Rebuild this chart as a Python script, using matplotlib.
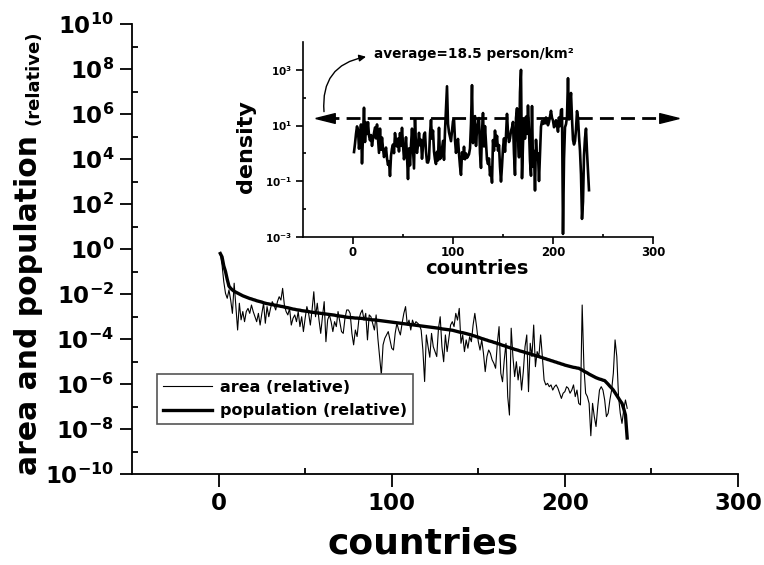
import numpy as np
import matplotlib
matplotlib.use("Agg")
import matplotlib.pyplot as plt
from matplotlib.ticker import FixedLocator, FuncFormatter, NullFormatter

plt.rcParams['font.family'] = 'DejaVu Sans'
plt.rcParams['font.weight'] = 'bold'
plt.rcParams['mathtext.fontset'] = 'dejavusans'

# countries ranked by population (log10 of relative value)
countries = np.arange(1, 237)
population_log10 = [
    -0.20, -0.35, -0.75, -1.00, -1.35, -1.65, -1.75, -1.82, -1.88, -1.92,
    -1.96, -2.00, -2.04, -2.08, -2.11, -2.14, -2.17, -2.20, -2.22, -2.25,
    -2.27, -2.30, -2.32, -2.34, -2.36, -2.39, -2.41, -2.43, -2.44, -2.46,
    -2.47, -2.49, -2.50, -2.52, -2.53, -2.55, -2.56, -2.58, -2.60, -2.61,
    -2.63, -2.65, -2.67, -2.68, -2.70, -2.71, -2.72, -2.74, -2.75, -2.76,
    -2.77, -2.78, -2.80, -2.81, -2.82, -2.83, -2.84, -2.85, -2.86, -2.87,
    -2.88, -2.89, -2.90, -2.91, -2.92, -2.93, -2.94, -2.96, -2.97, -2.98,
    -2.99, -3.00, -3.02, -3.03, -3.04, -3.05, -3.05, -3.06, -3.07, -3.07,
    -3.08, -3.08, -3.09, -3.10, -3.11, -3.12, -3.13, -3.14, -3.15, -3.15,
    -3.16, -3.17, -3.18, -3.19, -3.20, -3.21, -3.22, -3.23, -3.24, -3.25,
    -3.26, -3.27, -3.28, -3.29, -3.30, -3.31, -3.32, -3.33, -3.34, -3.35,
    -3.36, -3.37, -3.38, -3.39, -3.40, -3.41, -3.42, -3.43, -3.44, -3.45,
    -3.46, -3.47, -3.48, -3.49, -3.50, -3.51, -3.52, -3.53, -3.55, -3.56,
    -3.57, -3.58, -3.59, -3.60, -3.61, -3.63, -3.65, -3.67, -3.69, -3.71,
    -3.72, -3.74, -3.76, -3.78, -3.80, -3.82, -3.85, -3.87, -3.90, -3.92,
    -3.95, -3.98, -4.00, -4.03, -4.05, -4.08, -4.10, -4.12, -4.15, -4.17,
    -4.20, -4.22, -4.25, -4.28, -4.30, -4.33, -4.36, -4.38, -4.41, -4.43,
    -4.46, -4.48, -4.50, -4.53, -4.55, -4.57, -4.60, -4.62, -4.64, -4.66,
    -4.69, -4.71, -4.74, -4.76, -4.78, -4.81, -4.83, -4.86, -4.88, -4.91,
    -4.93, -4.96, -4.98, -5.01, -5.03, -5.06, -5.08, -5.11, -5.13, -5.16,
    -5.18, -5.20, -5.22, -5.24, -5.26, -5.27, -5.29, -5.30, -5.34, -5.38,
    -5.43, -5.47, -5.51, -5.56, -5.60, -5.64, -5.68, -5.72, -5.75, -5.78,
    -5.80, -5.83, -5.85, -5.93, -6.01, -6.10, -6.18, -6.27, -6.39, -6.51,
    -6.63, -6.75, -6.86, -7.10, -7.38, -8.40,
]
area_log10 = [
    -0.25, -0.70, -1.45, -1.97, -2.19, -1.82, -2.27, -2.86, -1.52, -2.56,
    -3.60, -2.41, -3.15, -2.78, -3.23, -2.78, -2.64, -2.86, -2.49, -2.78,
    -3.01, -3.23, -2.86, -3.38, -2.86, -2.41, -3.30, -2.56, -3.01, -2.64,
    -2.34, -2.49, -2.71, -2.34, -2.12, -2.27, -1.75, -2.49, -2.78, -2.93,
    -2.64, -3.38, -3.08, -2.93, -3.23, -2.78, -3.45, -3.01, -3.67, -3.08,
    -2.56, -2.86, -3.38, -2.71, -1.90, -3.01, -2.41, -3.15, -3.75, -3.01,
    -2.34, -4.12, -3.15, -2.93, -3.23, -3.67, -3.23, -3.45, -2.78, -3.23,
    -3.67, -3.75, -3.08, -2.71, -2.71, -2.86, -3.75, -4.26, -3.60, -3.89,
    -3.15, -2.86, -2.71, -3.16, -2.86, -4.04, -2.93, -3.01, -3.30, -3.60,
    -2.93, -3.97, -4.78, -5.60, -4.26, -3.97, -3.82, -3.67, -4.04, -4.41,
    -4.49, -3.75, -3.30, -3.60, -3.82, -3.30, -2.86, -2.56, -3.38, -3.16,
    -3.60, -3.16, -3.38, -3.23, -3.30, -3.38, -3.60, -4.49, -5.89, -3.82,
    -4.34, -4.81, -3.75, -4.34, -4.56, -4.78, -3.53, -3.01, -4.34, -5.01,
    -3.82, -4.56, -3.97, -3.38, -3.23, -3.45, -2.86, -3.16, -2.64, -4.19,
    -3.82, -4.56, -4.04, -4.41, -3.90, -4.12, -3.38, -2.86, -3.45, -4.12,
    -4.49, -4.04, -4.64, -5.45, -4.78, -4.49, -4.64, -4.93, -5.08, -5.30,
    -4.19, -3.45, -5.52, -5.90, -4.93, -4.19, -6.56, -7.38, -3.52, -4.78,
    -5.67, -5.01, -5.82, -5.23, -6.27, -5.45, -4.34, -3.82, -6.34, -4.19,
    -4.78, -3.38, -5.23, -4.56, -4.78, -3.82, -4.78, -5.82, -6.04, -5.97,
    -6.12, -6.04, -6.27, -6.12, -6.04, -6.19, -6.41, -6.64, -6.41, -6.34,
    -6.12, -6.19, -6.41, -6.27, -6.04, -6.56, -6.27, -6.86, -6.93, -2.49,
    -5.23, -6.41, -6.56, -6.86, -8.30, -6.86, -7.45, -7.89, -7.00, -6.27,
    -6.12, -6.27, -6.71, -7.45, -7.30, -6.71, -6.27, -5.52, -4.04, -4.78,
    -6.56, -7.30, -7.75, -7.15, -6.71, -7.08,
]
average_density = 18.5

population = 10.0 ** np.array(population_log10)
area = 10.0 ** np.array(area_log10)
density = population / area


def pow10(v, pos):
    return r"$\mathbf{10^{%d}}$" % round(np.log10(v))


fig = plt.figure(figsize=(7.64, 5.65), dpi=100)

# main plot
ax = fig.add_axes([132/764, 91/565, 606/764, 450/565])
ax.plot(countries, area, color='black', lw=0.8, label='area (relative)')
ax.plot(countries, population, color='black', lw=2.4, label='population (relative)')
ax.set_yscale('log')
ax.set_xlim(-50, 300)
ax.set_ylim(1e-10, 1e10)
ax.xaxis.set_major_locator(FixedLocator([0, 100, 200, 300]))
ax.xaxis.set_minor_locator(FixedLocator([50, 150, 250]))
ax.yaxis.set_major_locator(FixedLocator([10.0**e for e in range(-10, 11, 2)]))
ax.yaxis.set_minor_locator(FixedLocator([10.0**e for e in range(-9, 10, 2)]))
ax.yaxis.set_major_formatter(FuncFormatter(pow10))
ax.yaxis.set_minor_formatter(NullFormatter())
ax.spines[['top', 'right']].set_visible(False)
ax.spines[['left', 'bottom']].set_linewidth(1.3)
ax.tick_params(which='major', direction='out', length=9, width=1.3, labelsize=16.5)
ax.tick_params(which='minor', direction='in', length=4, width=1.3)
ax.tick_params(axis='x', which='major', pad=4)
ax.tick_params(axis='y', which='major', pad=4)

leg = ax.legend(loc='upper left', bbox_to_anchor=(157/764, 1-374/565),
                bbox_transform=fig.transFigure, fontsize=11.5, handlelength=3.1,
                fancybox=False, edgecolor='#555555', framealpha=1,
                borderpad=0.35, labelspacing=0.55, handletextpad=0.5, borderaxespad=0)
leg.get_frame().set_linewidth(1.2)

fig.text(29/764, 1-305/565, 'area and population', rotation=90,
         ha='center', va='center', fontsize=21.5)
fig.text(34/764, 1-78/565, '(relative)', rotation=90,
         ha='center', va='center', fontsize=13)
fig.text(423/764, 1-544/565, 'countries', ha='center', va='center', fontsize=26)

# inset: density
ins = fig.add_axes([303/764, 1-237/565, 350/764, 195/565])
ins.patch.set_alpha(0)
ins.plot(countries, density, color='black', lw=1.9)
ins.set_yscale('log')
ins.set_xlim(-50, 300)
ins.set_ylim(1e-3, 1e4)
ins.xaxis.set_major_locator(FixedLocator([0, 100, 200, 300]))
ins.xaxis.set_minor_locator(FixedLocator([50, 150, 250]))
ins.yaxis.set_major_locator(FixedLocator([1e-3, 1e-1, 1e1, 1e3]))
ins.yaxis.set_minor_locator(FixedLocator([1e-2, 1e0, 1e2]))
ins.yaxis.set_major_formatter(FuncFormatter(pow10))
ins.yaxis.set_minor_formatter(NullFormatter())
ins.spines[['top', 'right']].set_visible(False)
ins.spines[['left', 'bottom']].set_linewidth(1.2)
ins.tick_params(which='major', direction='out', length=5, width=1.2)
ins.tick_params(which='minor', direction='in', length=2.5, width=1.2)
ins.tick_params(axis='x', labelsize=8.5, pad=1.5)
ins.tick_params(axis='y', labelsize=7.5, pad=3)

tri_left = [(-1, 0), (1, 0.5), (1, -0.5), (-1, 0)]
tri_right = [(1, 0), (-1, 0.5), (-1, -0.5), (1, 0)]
ins.plot([-28, 316], [average_density, average_density], color='black', lw=2,
         ls=(0, (5, 2.6)), clip_on=False)
ins.plot([-28], [average_density], marker=tri_left, ms=14, color='black', clip_on=False)
ins.plot([316], [average_density], marker=tri_right, ms=14, color='black', clip_on=False)
ins.annotate('', xy=(13, 10**3.47), xytext=(-29, 10**1.5),
             arrowprops=dict(arrowstyle='-|>', color='black', lw=1,
                             connectionstyle='arc3,rad=-0.45',
                             shrinkA=0, shrinkB=0, mutation_scale=10),
             annotation_clip=False)
ins.text(21, 10**3.57, 'average=18.5 person/km²', ha='left', va='center', fontsize=9.8)

fig.text(246/764, 1-147/565, 'density', rotation=90, ha='center', va='center', fontsize=16)
fig.text(477/764, 1-269/565, 'countries', ha='center', va='center', fontsize=14)

fig.savefig('out.png', dpi=100)
